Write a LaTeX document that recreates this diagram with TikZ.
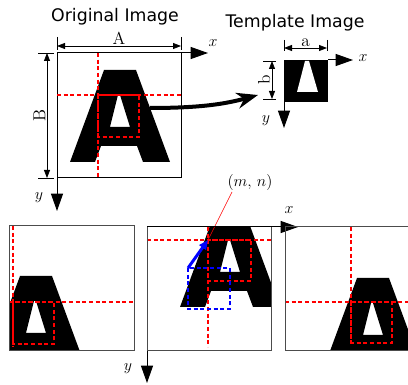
\documentclass[tikz,border=0pt]{standalone}
\usepackage{fontspec}
\newfontfamily\titlefont{DejaVu Sans}
\usepackage{tikz}
\usetikzlibrary{arrows.meta,calc,positioning}

% the letter A, placed by the apex of its hole
\newcommand{\letterA}[2]{%
\fill[black,even odd rule,shift={(#1,#2)}] (-15,-25)--(17,-25)--(51,67)--(24,67)--(18,51)--(-18,51)--(-24,67)--(-49,67)--cycle
 (-1,0)--(1,0)--(11,32)--(-9,32)--cycle;}

\tikzset{
 axis/.style={line width=.75pt,-{Triangle[length=13pt,width=9pt]}},
 dimline/.style={line width=.6pt,{Triangle[length=6pt,width=4.5pt]}-{Triangle[length=6pt,width=4.5pt]}},
 tick/.style={line width=.5pt},
 guide/.style={color=red,line width=.8pt,dash pattern=on 3pt off 2pt},
 bguide/.style={color=blue,line width=.8pt,dash pattern=on 3pt off 2pt},
 frame/.style={line width=.75pt},
 lbl/.style={font=\fontsize{13}{15}\selectfont,inner sep=1pt},
 title/.style={font=\titlefont\fontsize{13}{15}\selectfont,inner sep=0pt}
}

\begin{document}
\begin{tikzpicture}[x=.75pt,y=-.75pt]
\useasboundingbox (0,0) rectangle (408,385);

% original image
\node[title] (origtitle) at (115,17) {Original Image};
\draw[frame] (57,53) rectangle (181,178);
\letterA{119}{95}
\draw[guide] (98,53)--(98,178); \draw[guide] (57,95)--(181,95);
\draw[guide] (98,95) rectangle (139,137);
\draw[tick] (57,37)--(57,50); \draw[tick] (181,37)--(181,50);
\draw[dimline] (57,46)--(181,46) node[midway,above,lbl] (labA) {A};
\draw[tick] (38,53)--(54,53); \draw[tick] (38,178)--(54,178);
\draw[dimline] (47,53)--(47,178) node[midway,lbl,rotate=90,anchor=south] (labB) {B};
\draw[axis] (181,53)--(208,53); \node[lbl] (origx) at (213,43) {$x$};
\draw[axis] (57,178)--(57,211); \node[lbl] (origy) at (39,198) {$y$};

% template image
\node[title] (templtitle) at (295,23) {Template Image};
\fill (284,60) rectangle (328,102);
\fill[white] (305,61)--(309,61)--(318,92)--(297,92)--cycle;
\draw[tick] (284,40)--(284,51); \draw[tick] (327,40)--(327,51);
\draw[dimline] (284,48)--(327,48) node[midway,above,lbl] (laba) {a};
\draw[tick] (263,61)--(276,61); \draw[tick] (263,99)--(276,99);
\draw[dimline] (272,61)--(272,99) node[midway,lbl,rotate=90,anchor=south] (labb) {b};
\draw[axis] (328,60)--(353,60); \node[lbl] (templx) at (363,58) {$x$};
\draw[axis] (284,102)--(284,128); \node[lbl] (temply) at (266,121) {$y$};

\draw[line width=3pt,-{Stealth[length=16pt,width=12pt]}] (150,108) .. controls (200,108) and (225,104) .. (258,95);

% sliding the template: first position
\begin{scope}
\clip (9,226) rectangle (134,351);
\letterA{35}{301}
\draw[guide] (13,226)--(13,347); \draw[guide] (9,302)--(134,302);
\draw[guide] (13,302) rectangle (54,344);
\end{scope}
\draw[frame,black!70] (9,226) rectangle (134,351);

% second position
\begin{scope}
\clip (147,227) rectangle (271,351);
\letterA{229}{240}
\draw[guide] (208,227)--(208,347); \draw[guide] (147,240)--(271,240);
\draw[guide] (208,240) rectangle (251,281);
\draw[bguide] (188,268) rectangle (230,309);
\end{scope}
\draw[frame,black!70] (147,227) rectangle (271,351);
\coordinate (mn) at (208,240);
\draw[blue,line width=2.2pt,-{Triangle[length=7pt,width=6pt]}] (188,268)--(mn);
\node[lbl] (mnlabel) at (250,183) {$(m,\,n)$};
\draw[red,line width=.5pt] (232,192)--(mn);
\draw[axis] (147,227)--(298,227); \node[lbl] (slidex) at (289,210) {$x$};
\draw[axis] (147,351)--(147,383); \node[lbl] (slidey) at (128,369) {$y$};

% third position
\begin{scope}
\clip (285,227) rectangle (408,351);
\letterA{372}{303}
\draw[guide] (351,227)--(351,343); \draw[guide] (285,302)--(408,302);
\draw[guide] (351,302) rectangle (392,343);
\end{scope}
\draw[frame,black!70] (408,227)--(285,227)--(285,351)--(408,351);
\end{tikzpicture}
\end{document}
